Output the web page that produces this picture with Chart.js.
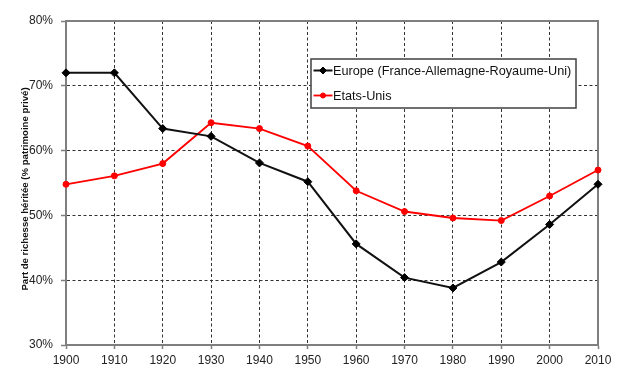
<!DOCTYPE html>
<html>
<head>
<meta charset="utf-8">
<script src="https://cdn.jsdelivr.net/npm/chart.js@4"></script>
<style>
html,body{margin:0;padding:0;background:#fff;}
#wrap{position:relative;width:621px;height:379px;}
</style>
</head>
<body>
<div id="wrap"><canvas id="c" width="621" height="379"></canvas></div>
<script>
const years = ['1900','1910','1920','1930','1940','1950','1960','1970','1980','1990','2000','2010'];
const europe = [72.0, 72.0, 63.4, 62.2, 58.1, 55.2, 45.6, 40.4, 38.8, 42.8, 48.6, 54.8];
const usa = [54.8, 56.1, 58.0, 64.3, 63.4, 60.7, 53.8, 50.6, 49.6, 49.2, 53.0, 57.0];
const seriesNames = ['Europe (France-Allemagne-Royaume-Uni)', 'Etats-Unis'];
const yTitle = 'Part de richesse héritée (% patrimoine privé)';
const yMin = 30, yMax = 80, yStep = 10;

const FONT = '"Liberation Sans", Arial, sans-serif';

const frame = {
  id: 'frame',
  beforeDatasetsDraw(chart) {
    const {ctx, chartArea: a} = chart;
    ctx.save();
    ctx.strokeStyle = '#7f7f7f';
    ctx.lineWidth = 2;
    ctx.strokeRect(a.left, a.top, a.right - a.left, a.bottom - a.top);
    ctx.restore();
  },
  afterDraw(chart) {
    const {ctx} = chart;
    // y axis title
    ctx.save();
    ctx.translate(25, 189);
    ctx.rotate(-Math.PI / 2);
    ctx.font = 'bold 9.6px ' + FONT;
    ctx.fillStyle = '#111';
    ctx.textAlign = 'center';
    ctx.textBaseline = 'middle';
    ctx.fillText(yTitle, 0, 0);
    ctx.restore();
    // legend box
    const bx = 311, by = 59, bw = 265, bh = 49;
    ctx.save();
    ctx.fillStyle = '#fff';
    ctx.fillRect(bx, by, bw, bh);
    ctx.strokeStyle = '#404040';
    ctx.lineWidth = 1.5;
    ctx.strokeRect(bx, by, bw, bh);
    ctx.font = '12.7px ' + FONT;
    ctx.textBaseline = 'middle';
    chart.data.datasets.forEach((ds, i) => {
      const y = by + 11.5 + i * 25;
      ctx.strokeStyle = ds.borderColor;
      ctx.lineWidth = ds.borderWidth;
      ctx.beginPath(); ctx.moveTo(bx + 2.5, y); ctx.lineTo(bx + 21.5, y); ctx.stroke();
      ctx.fillStyle = ds.pointBackgroundColor;
      ctx.strokeStyle = ds.pointBorderColor;
      ctx.lineWidth = 1;
      Chart.helpers.drawPoint(ctx, {pointStyle: ds.pointStyle, radius: ds.pointRadius - 0.5, borderWidth: 1}, bx + 12, y);
      ctx.fillStyle = '#111';
      ctx.fillText(ds.label, bx + 22, y + 0.5);
    });
    ctx.restore();
  }
};

new Chart(document.getElementById('c'), {
  type: 'line',
  data: {
    labels: years,
    datasets: [
      {label: seriesNames[0], data: europe, borderColor: '#111', backgroundColor: '#000',
       pointBackgroundColor: '#000', pointBorderColor: '#000', borderWidth: 2,
       pointStyle: 'rectRot', pointRadius: 4, pointBorderWidth: 1, tension: 0},
      {label: seriesNames[1], data: usa, borderColor: '#ff0000', backgroundColor: '#ff0000',
       pointBackgroundColor: '#ff0000', pointBorderColor: '#ff0000', borderWidth: 1.8,
       pointStyle: 'circle', pointRadius: 3, pointBorderWidth: 1, tension: 0}
    ]
  },
  options: {
    responsive: false,
    animation: false,
    devicePixelRatio: 1,
    layout: {padding: {top: 21, right: 23, bottom: 0, left: 0}},
    plugins: {legend: {display: false}, tooltip: {enabled: false}},
    scales: {
      x: {
        offset: false,
        grid: {color: '#333', lineWidth: 1, tickLength: 4, tickColor: '#7f7f7f', tickWidth: 1.5},
        border: {dash: [3, 2.5], color: '#7f7f7f', width: 2},
        ticks: {color: '#222', font: {family: FONT, size: 12}, padding: 4, maxRotation: 0, autoSkip: false},
        afterFit(s) { s.height = 34; }
      },
      y: {
        min: yMin, max: yMax,
        grid: {color: '#333', lineWidth: 1, tickLength: 5, tickColor: '#7f7f7f', tickWidth: 1.5},
        border: {dash: [3, 2.5], color: '#7f7f7f', width: 2},
        ticks: {stepSize: yStep, color: '#222', font: {family: FONT, size: 12}, padding: 8,
                callback: v => v + '%'},
        afterFit(s) { s.width = 66; }
      }
    }
  },
  plugins: [frame]
});
</script>
</body>
</html>
